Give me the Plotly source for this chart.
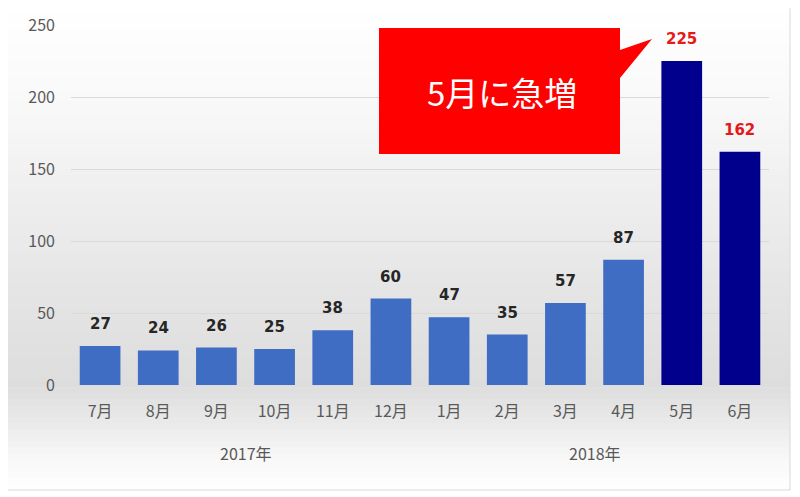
import plotly.graph_objects as go

months = ["7月", "8月", "9月", "10月", "11月", "12月", "1月", "2月", "3月", "4月", "5月", "6月"]
counts = [27, 24, 26, 25, 38, 60, 47, 35, 57, 87, 225, 162]
years = ["2017年", "2018年"]
year_months = [months[:6], months[6:]]
highlight = ["5月", "6月"]
callout_text = "5月に急増"

# page body has an 8px margin, so the figure starts at (8, 8)
OFF = 8
W, H = 792, 489
L, R, T, B = 63, 31, 17, 112
plotW = W - L - R
plotH = H - T - B

def px(x):
    return (x - OFF - L) / plotW

def py(y):
    return (H - B - (y - OFF)) / plotH

barColors = ["#00008C" if m in highlight else "#3F6DC3" for m in months]
labelColors = ["#E41A1A" if m in highlight else "#262626" for m in months]

fig = go.Figure()
fig.add_trace(go.Bar(x=months, y=counts, marker=dict(color=barColors, line=dict(width=0)),
                     hoverinfo="x+y", showlegend=False))

# background gradient, white on top -> grey near the axis -> white at the bottom
stops = [(6, 255), (100, 249), (200, 238), (300, 228), (385, 221), (420, 233), (460, 248), (490, 255)]
shapes = []
bandCount = 80
for i in range(bandCount):
    y0 = 6 + (490 - 6) * i / bandCount
    y1 = 6 + (490 - 6) * (i + 1) / bandCount
    mid = (y0 + y1) / 2
    g = 255
    for (a, ga), (b, gb) in zip(stops[:-1], stops[1:]):
        if a <= mid <= b:
            g = round(ga + (gb - ga) * (mid - a) / (b - a))
    shapes.append(dict(type="rect", xref="paper", yref="paper", x0=px(6), x1=px(790),
                       y0=py(y1) - 0.002, y1=py(y0), fillcolor=f"rgb({g},{g},{g})",
                       line=dict(width=0), layer="below"))
shapes.append(dict(type="rect", xref="paper", yref="paper", x0=px(6), x1=px(790),
                   y0=py(490), y1=py(6), line=dict(color="#D9D9D9", width=1), layer="below"))

# callout box with pointer
path = "M {},{} L {},{} L {},{} L {},{} L {},{} L {},{} L {},{} Z".format(
    px(379), py(28), px(620), py(28), px(620), py(50), px(652), py(39),
    px(620), py(78), px(620), py(154), px(379), py(154))
shapes.append(dict(type="path", xref="paper", yref="paper", path=path,
                   fillcolor="#FF0000", line=dict(width=0), layer="above"))

annotations = []
for m, v, c in zip(months, counts, labelColors):
    annotations.append(dict(x=m, y=v, text=str(v), showarrow=False, yanchor="bottom", yshift=11,
                            font=dict(family="DejaVu Sans", size=15, color=c, weight="bold")))
for yr, ms in zip(years, year_months):
    center = (months.index(ms[0]) + months.index(ms[-1])) / 2
    annotations.append(dict(x=center, xref="x", y=py(453), yref="paper", text=yr, showarrow=False,
                            xanchor="center", yanchor="middle",
                            font=dict(family="Noto Sans CJK JP", size=16, color="#595959")))
annotations.append(dict(x=px(502), y=py(92), xref="paper", yref="paper", text=callout_text,
                        showarrow=False, xanchor="center", yanchor="middle",
                        font=dict(family="Noto Sans CJK JP", size=33, color="white")))

fig.update_layout(
    width=W, height=H,
    margin=dict(l=L, r=R, t=T, b=B),
    paper_bgcolor="white", plot_bgcolor="rgba(0,0,0,0)",
    bargap=0.3,
    shapes=shapes, annotations=annotations,
    xaxis=dict(showgrid=False, showline=False, zeroline=False, ticklabelstandoff=15, automargin=False,
               tickfont=dict(family="Noto Sans CJK JP", size=16, color="#595959")),
    yaxis=dict(range=[0, 250], dtick=50, showgrid=True, gridcolor="#D9D9D9", gridwidth=1,
               zeroline=False, showline=False, ticklabelstandoff=15, automargin=False,
               tickfont=dict(family="Noto Sans CJK JP", size=16, color="#595959")),
)

fig.write_html("out.html")
